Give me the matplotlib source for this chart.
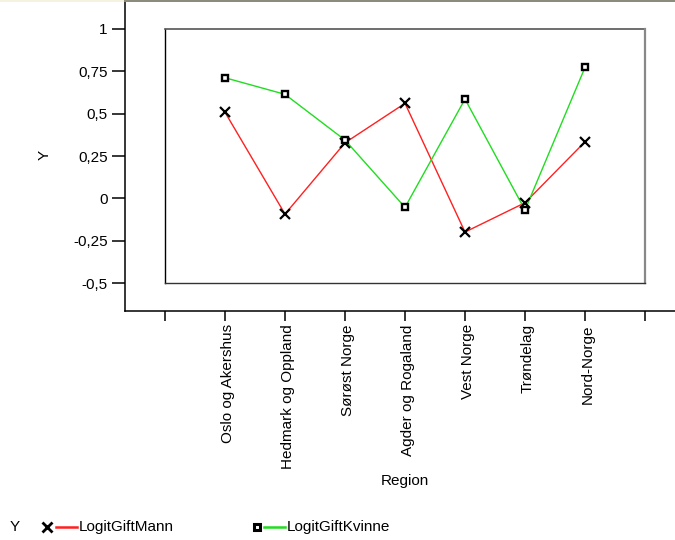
import matplotlib
matplotlib.use("Agg")
import matplotlib.pyplot as plt
import matplotlib.transforms as mtransforms
from matplotlib.lines import Line2D
from matplotlib.patches import Rectangle

plt.rcParams['font.family'] = ['Liberation Sans', 'DejaVu Sans']

# Data
regions = ["Oslo og Akershus", "Hedmark og Oppland", "Sørøst Norge",
           "Agder og Rogaland", "Vest Norge", "Trøndelag", "Nord-Norge"]
logit_mann = [0.508, -0.093, 0.328, 0.561, -0.199, -0.026, 0.334]
logit_kvinne = [0.712, 0.614, 0.344, -0.053, 0.586, -0.069, 0.773]
y_ticks = [1, 0.75, 0.5, 0.25, 0, -0.25, -0.5]
y_tick_labels = ["1", "0,75", "0,5", "0,25", "0", "-0,25", "-0,5"]

W, H = 675, 540
fig = plt.figure(figsize=(W / 100, H / 100), dpi=100)
ax = fig.add_axes([125 / W, 1 - 311 / H, 550 / W, 311 / H])

x = list(range(len(regions)))
ax.plot(x, logit_mann, color="#ff2020", lw=1.0, zorder=3)
ax.plot(x, logit_kvinne, color="#20dd20", lw=1.0, zorder=3)
ax.plot(x, logit_mann, ls="none", marker="x", ms=6.5, mew=1.6, color="black", zorder=4)
ax.plot(x, logit_kvinne, ls="none", marker="s", ms=4.5, mew=1.7, mfc="white",
        mec="black", zorder=4)

ax.set_xlim(-1.667, 7.5)
ax.set_ylim(-0.665, 1.171)

# inner frame
ax.plot([-1, -1], [-0.5, 1], color="black", lw=1.0, zorder=2)
ax.plot([-1, 7], [1, 1], color="#555555", lw=1.2, zorder=2)
ax.plot([7, 7], [-0.5, 1], color="#888888", lw=1.6, zorder=2)
ax.plot([-1, 7], [-0.5, -0.5], color="#333333", lw=1.0, zorder=2)

for s in ["top", "right"]:
    ax.spines[s].set_visible(False)
ax.spines["left"].set_linewidth(1.1)
ax.spines["bottom"].set_linewidth(1.1)

ax.set_yticks(y_ticks)
ax.set_yticklabels(y_tick_labels)
ax.set_xticks(range(-1, len(regions) + 1))
ax.set_xticklabels([""] + regions + [""], rotation=90, va="top", ha="center")
ax.tick_params(axis="y", length=9.5, width=1.1, labelsize=11, pad=3)
ax.tick_params(axis="x", length=7.5, width=1.1, labelsize=11, pad=2)
shift = mtransforms.ScaledTranslation(2.5 / 100, 0, fig.dpi_scale_trans)
for lab in ax.get_xticklabels():
    lab.set_transform(lab.get_transform() + shift)

fig.text(45 / W, 1 - 155 / H, "Y", rotation=90, ha="center", va="center", fontsize=11)
fig.text(405 / W, 1 - 481 / H, "Region", ha="center", va="center", fontsize=11)

# legend drawn by hand: marker left, line right
ly = 1 - 527 / H
fig.text(15 / W, ly, "Y", ha="center", va="center", fontsize=11)
fig.add_artist(Line2D([47 / W], [ly], ls="none", marker="x", ms=7, mew=2.0, color="black"))
fig.add_artist(Line2D([56 / W, 77 / W], [ly, ly], color="#ff2020", lw=1.8))
fig.text(79 / W, ly, "LogitGiftMann", ha="left", va="center", fontsize=11)
fig.add_artist(Line2D([257 / W], [ly], ls="none", marker="s", ms=5, mew=2.2,
                      mfc="white", mec="black"))
fig.add_artist(Line2D([264 / W, 285 / W], [ly, ly], color="#20dd20", lw=1.8))
fig.text(287 / W, ly, "LogitGiftKvinne", ha="left", va="center", fontsize=11)

# thin page edge at the top
fig.add_artist(Rectangle((0, 1 - 2 / H), 124 / W, 2 / H, transform=fig.transFigure,
                         color="#f5f3df", lw=0))
fig.add_artist(Rectangle((124 / W, 1 - 2 / H), 551 / W, 2 / H, transform=fig.transFigure,
                         color="#8c8c7c", lw=0))

fig.savefig("out.png", dpi=100)
